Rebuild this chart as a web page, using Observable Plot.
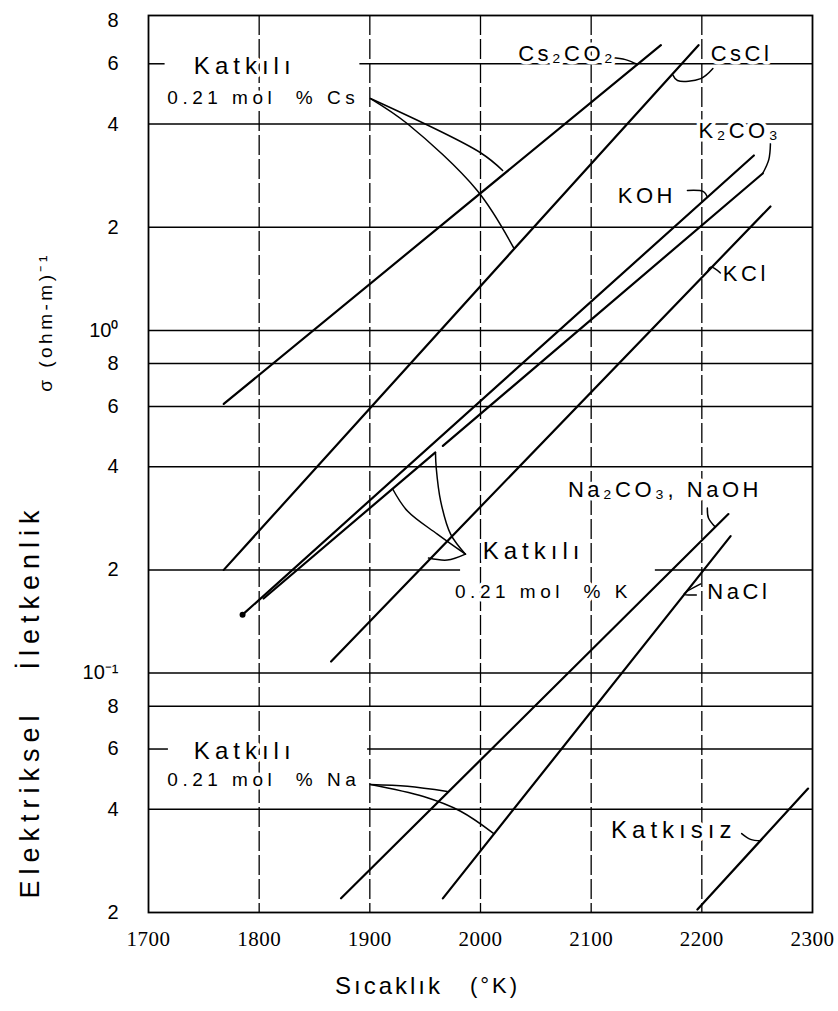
<!DOCTYPE html>
<html>
<head>
<meta charset="utf-8">
<script src="https://cdn.jsdelivr.net/npm/d3@7"></script>
<script src="https://cdn.jsdelivr.net/npm/@observablehq/plot@0.6"></script>
<style>
  body { margin: 0; background: #fff; }
  svg g[aria-label^="x-axis"] text { font-family: "Liberation Serif", serif; font-size: 21px; letter-spacing: 0.5px; }
  svg g[aria-description="labels-big"] text { paint-order: stroke; letter-spacing: 5px; }
  svg g[aria-description="labels-mid"] text { paint-order: stroke; letter-spacing: 3.5px; }
  svg g[aria-description="labels-small"] text { paint-order: stroke; letter-spacing: 4.5px; }
  svg g[aria-description="yticks"] text { font-family: "Liberation Sans", sans-serif; }
  svg text.title { font-family: "Liberation Sans", sans-serif; fill: black; }
</style>
</head>
<body>
<div id="chart"></div>
<script>
// ---------------- data ----------------
const xTicks = [1700, 1800, 1900, 2000, 2100, 2200, 2300];
const yTicks = [8, 6, 4, 2, 1, 0.8, 0.6, 0.4, 0.2, 0.1, 0.08, 0.06, 0.04, 0.02];
const yTickLabels = ["8", "6", "4", "2", "10⁰", "8", "6", "4", "2", "10⁻¹", "8", "6", "4", "2"];
const yGridFull = [4, 2, 1, 0.8, 0.6, 0.4, 0.1, 0.08, 0.04];
const xGrid = [1800, 1900, 2000, 2100, 2200];

// straight lines on the log plot: start / end temperature (K) and conductivity σ (ohm-m)^-1
const lineKeys = ["Cs2CO2_Cs", "CsCl_Cs", "KOH", "K2CO3_a", "K2CO3_b", "KCl", "Na2CO3_NaOH", "NaCl", "Katkisiz"];
const tStart = [1768, 1768, 1785, 1804, 1966, 1865, 1874, 1966, 2196];
const sStart = [0.61, 0.20, 0.148, 0.165, 0.46, 0.108, 0.022, 0.022, 0.0204];
const tEnd   = [2163, 2197, 2247, 1959, 2255, 2262, 2224, 2226, 2296];
const sEnd   = [6.8, 6.8, 3.24, 0.44, 2.87, 2.30, 0.291, 0.251, 0.046];

// labels (text and the data point where each starts)
const labelText = ["Katkılı", "0.21 mol  % Cs", "Cs₂CO₂", "CsCl", "K₂CO₃", "KOH", "KCl",
                   "Katkılı", "0.21 mol  % K", "Na₂CO₃, NaOH", "NaCl", "Katkılı", "0.21 mol  % Na", "Katkısız"];
const labelKind = ["big", "small", "mid", "mid", "mid", "mid", "mid", "big", "small", "mid", "mid", "big", "small", "big"];
const labelT = [1741, 1717, 2034, 2208, 2197, 2124, 2219, 2002, 1977, 2079, 2205, 1741, 1717, 2118];
const labelS = [5.89, 4.78, 6.43, 6.43, 3.83, 2.47, 1.46, 0.227, 0.173, 0.342, 0.172, 0.0591, 0.0486, 0.0347];

// leader lines from labels to curves (T, σ)
const leaders = [
  [[1900.6, 4.75], [2000, 3.30], [2020, 2.93]],
  [[1900.6, 4.75], [1934, 4.01], [1997, 2.56], [2030, 1.74]],
  [[2118.4, 6.26], [2131, 6.17], [2142, 5.97]],
  [[2210, 5.81], [2199, 5.43], [2178, 5.36], [2174, 5.55]],
  [[2262, 3.51], [2260.5, 3.15], [2255, 2.87]],
  [[2187, 2.56], [2201.5, 2.54], [2205, 2.45]],
  [[2217, 1.47], [2208, 1.53], [2205, 1.48]],
  [[1986.4, 0.2223], [1961, 0.2543], [1934, 0.297], [1920.5, 0.345]],
  [[1986.4, 0.2223], [1973, 0.2543], [1964, 0.3176], [1960, 0.3967], [1959.3, 0.441]],
  [[1953, 0.2165], [1970, 0.2136], [1986.4, 0.2223]],
  [[2205, 0.303], [2206, 0.2834], [2212, 0.267]],
  [[2199, 0.182], [2184, 0.170], [2195, 0.169]],
  [[1900.6, 0.0473], [1934, 0.0467], [1970, 0.0451]],
  [[1900.6, 0.0473], [1948.5, 0.0436], [1982, 0.0395], [2012, 0.034]],
  [[2236, 0.034], [2244, 0.0327], [2253, 0.0324]]
];

// interrupted grid lines (σ level, from T, to T)
const partialY = [6, 6, 0.06, 0.06, 0.2, 0.2];
const partialFrom = [1700, 1891, 1700, 1898, 1700, 2158];
const partialTo = [1715, 2300, 1718, 2300, 1982, 2300];

// ---------------- build tables ----------------
const lineRows = lineKeys.flatMap((k, i) => [
  {key: k, t: tStart[i], s: sStart[i]},
  {key: k, t: tEnd[i], s: sEnd[i]}
]);
const leaderRows = leaders.flatMap((pts, i) => pts.map(([t, s]) => ({id: i, t, s})));
const labels = labelText.map((text, i) => ({text, kind: labelKind[i], t: labelT[i], s: labelS[i]}));
const partial = partialY.map((y, i) => ({y, x1: partialFrom[i], x2: partialTo[i]}));
const yTickRows = yTicks.map((v, i) => ({v, label: yTickLabels[i]}));

const halo = {stroke: "white", strokeWidth: 7, fill: "black", textAnchor: "start", fontFamily: "Liberation Sans"};

const chart = Plot.plot({
  width: 838,
  height: 1011,
  marginLeft: 148,
  marginRight: 26,
  marginTop: 15,
  marginBottom: 99,
  style: {background: "white", color: "black", fontFamily: "Liberation Sans"},
  x: {domain: [1700, 2300], ticks: xTicks, tickSize: 0, tickPadding: 19, tickFormat: d => String(d), label: null},
  y: {type: "log", domain: [0.02, 8.3], axis: null},
  marks: [
    Plot.ruleY(yGridFull, {stroke: "black", strokeWidth: 1.5}),
    Plot.ruleY(partial, {y: "y", x1: "x1", x2: "x2", stroke: "black", strokeWidth: 1.5}),
    Plot.ruleX(xGrid, {stroke: "black", strokeWidth: 1.3, strokeDasharray: "20,4"}),
    Plot.line(lineRows, {x: "t", y: "s", z: "key", stroke: "black", strokeWidth: 2.2}),
    Plot.dot([lineRows[4]], {x: "t", y: "s", r: 3, fill: "black"}),
    Plot.line(leaderRows, {x: "t", y: "s", z: "id", stroke: "black", strokeWidth: 1.5, curve: "catmull-rom"}),
    Plot.text(labels.filter(d => d.kind === "big"), {x: "t", y: "s", text: "text", fontSize: 24, ...halo, ariaDescription: "labels-big"}),
    Plot.text(labels.filter(d => d.kind === "mid"), {x: "t", y: "s", text: "text", fontSize: 22, ...halo, ariaDescription: "labels-mid"}),
    Plot.text(labels.filter(d => d.kind === "small"), {x: "t", y: "s", text: "text", fontSize: 19, ...halo, ariaDescription: "labels-small"}),
    Plot.frame({stroke: "black", strokeWidth: 1.8}),
    // y tick labels
    Plot.text(yTickRows, {y: "v", text: "label", frameAnchor: "left", dx: -30, textAnchor: "end",
      fontSize: 20, fill: "black", ariaDescription: "yticks"})
  ]
});
document.getElementById("chart").appendChild(chart);

// axis titles
const svg = d3.select(chart);
function title(text, x, y, size, rotate, spacing) {
  svg.append("text").attr("class", "title")
    .attr("transform", `translate(${x},${y}) rotate(${rotate})`)
    .attr("text-anchor", "middle").attr("dominant-baseline", "central")
    .style("font-size", size + "px").style("letter-spacing", spacing + "px")
    .text(text);
}
title("Elektriksel", 30, 804, 27, -90, 6);
title("İletkenlik", 30, 587, 27, -90, 6);
title("σ (ohm-m)⁻¹", 45, 322, 19, -90, 3.5);
title("Sıcaklık", 389, 985, 24, 0, 3);
title("(°K)", 495, 985, 22, 0, 3);
</script>
</body>
</html>
